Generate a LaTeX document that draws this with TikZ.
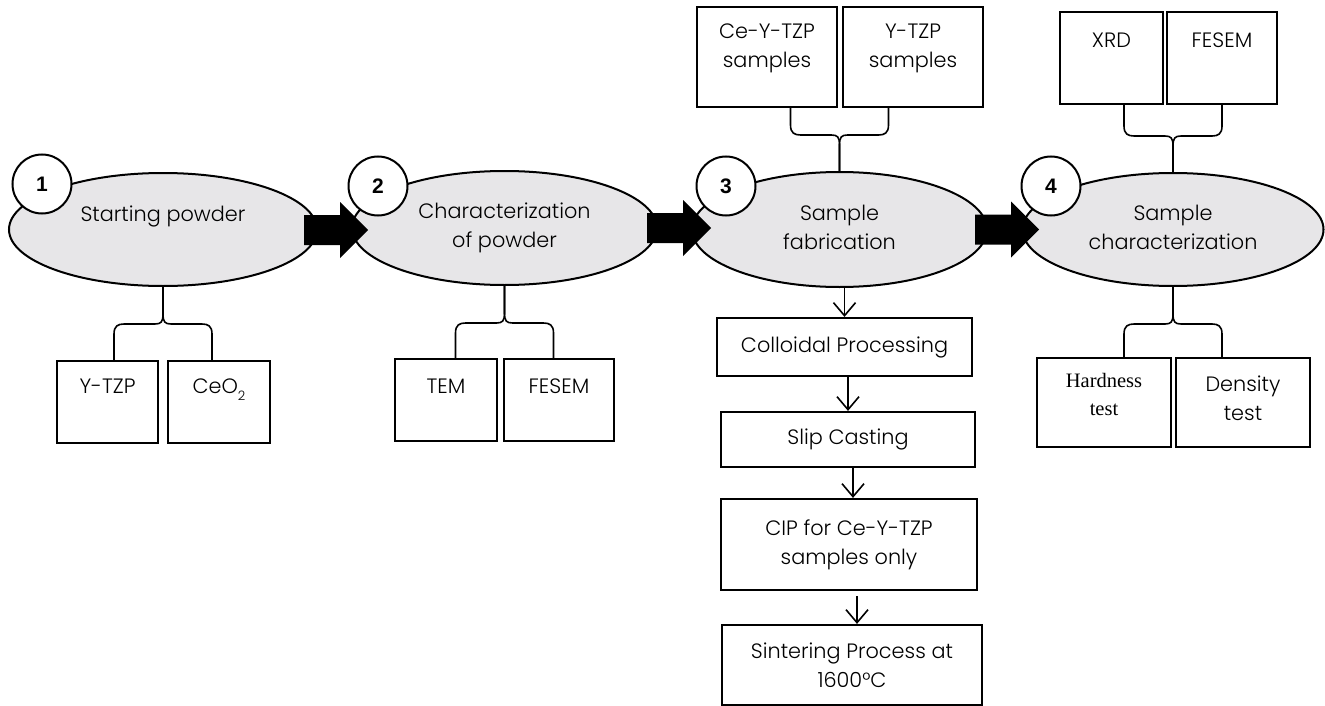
\documentclass[tikz,border=0pt]{standalone}
\usepackage{fontspec}
\setmainfont{Poppins}[UprightFont=* Light]
\newfontfamily\numfont{Liberation Sans}
\newfontfamily\serifface{Liberation Serif}
\usetikzlibrary{shapes.geometric,arrows.meta,calc}

\definecolor{stagefill}{RGB}{231,230,232}

% subscript set in the text font
\newcommand\lowtwo{\raisebox{-0.3em}{\fontsize{13}{13}\selectfont 2}}

% brace hanging below a stage, forking to two boxes
\newcommand\forkdown[3]{%
  \coordinate (fl) at ($(#1.south)+(-49,0)$);
  \coordinate (fr) at ($(#1.south)+(49,0)$);
  \draw[fork] (#1.south) -- ++(0,27) .. controls +(0,8) and +(6,0) .. ++(-8,10)
    -- ++(-31,0) .. controls +(-6,0) and +(0,-8) .. ++(-10,10) -- (fl |- #2.north);
  \draw[fork] (#1.south) -- ++(0,27) .. controls +(0,8) and +(-6,0) .. ++(8,10)
    -- ++(31,0) .. controls +(6,0) and +(0,-8) .. ++(10,10) -- (fr |- #3.north);
}
% brace rising above a stage, forking to two boxes
\newcommand\forkup[3]{%
  \coordinate (fl) at ($(#1.north)+(-49,0)$);
  \coordinate (fr) at ($(#1.north)+(49,0)$);
  \draw[fork] (#1.north) -- ++(0,-26) .. controls +(0,-8) and +(6,0) .. ++(-8,-10)
    -- ++(-31,0) .. controls +(-6,0) and +(0,8) .. ++(-10,-10) -- (fl |- #2.south);
  \draw[fork] (#1.north) -- ++(0,-26) .. controls +(0,-8) and +(-6,0) .. ++(8,-10)
    -- ++(31,0) .. controls +(6,0) and +(0,8) .. ++(10,-10) -- (fr |- #3.south);
}
% thick black block arrow starting at a point
\newcommand\blockarrow[1]{%
  \fill[black] #1 ++(0,-15) -- ++(36,0) -- ++(0,-13) -- ++(28,28)
    -- ++(-28,28) -- ++(0,-13) -- ++(-36,0) -- cycle;
}

\begin{document}
\begin{tikzpicture}[x=1pt,y=-1pt,
  stage/.style={ellipse, draw, line width=2pt, fill=stagefill, inner sep=0pt},
  num/.style={circle, draw, line width=2pt, fill=white, minimum size=59pt, inner sep=0pt,
    font=\numfont\bfseries\fontsize{21}{24}\selectfont},
  item/.style={draw, line width=2.2pt, inner sep=0pt},
  txt/.style={font=\fontsize{20.8}{29}\selectfont, align=center, inner sep=0pt},
  seriftxt/.style={font=\serifface\fontsize{20.5}{28}\selectfont, align=center, inner sep=0pt},
  fork/.style={line width=1.6pt},
  flow/.style={line width=1.6pt, -{Straight Barb[length=13pt,width=22pt,line width=1.6pt]}},
]
\fill[white] (0,0) rectangle (1325,706);
\path[use as bounding box] (0,0) rectangle (1325,706);

% the four stages
\node[stage, minimum width=308pt, minimum height=113pt] (e1) at (163,229.5) {};
\node[stage, minimum width=305pt, minimum height=114pt] (e2) at (504.5,228) {};
\node[stage, minimum width=295pt, minimum height=115pt] (e3) at (839.5,229.5) {};
\node[stage, minimum width=301pt, minimum height=113pt] (e4) at (1173,229.5) {};

% stage names (base = last line)
\node[txt, anchor=base] (l1) at ($(e1.center)+(0,-8)$) {Starting powder};
\node[txt, anchor=base] (l2) at ($(e2.center)+(0,19)$) {Characterization\\of powder};
\node[txt, anchor=base] (l3) at ($(e3.center)+(0,20)$) {Sample\\fabrication};
\node[txt, anchor=base] (l4) at ($(e4.center)+(0,20)$) {Sample\\characterization};

% block arrows between stages
\blockarrow{($(e1.east)+(-14,0.5)$)}
\blockarrow{($(e2.east)+(-11,0)$)}
\blockarrow{($(e3.east)+(-13,0)$)}

% step numbers
\node[num] (n1) at (42,184) {1};
\node[num] (n2) at (378,186) {2};
\node[num] (n3) at (726,186) {3};
\node[num] (n4) at (1051,186) {4};

% inputs above stages 3 and 4
\node[item, minimum width=140pt, minimum height=100pt] (t3a) at (767,57) {};
\node[item, minimum width=140pt, minimum height=100pt] (t3b) at (913,57) {};
\node[item, minimum width=103pt, minimum height=92pt] (t4a) at (1111.5,58) {};
\node[item, minimum width=110pt, minimum height=92pt] (t4b) at (1222,58) {};
\node[txt, anchor=base] at ($(t3a.north)+(0,62)$) {Ce-Y-TZP\\samples};
\node[txt, anchor=base] at ($(t3b.north)+(0,62)$) {Y-TZP\\samples};
\node[txt, anchor=base] at ($(t4a.north)+(0,37)$) {XRD};
\node[txt, anchor=base] at ($(t4b.north)+(0,37)$) {FESEM};

% outputs below stages 1, 2 and 4
\node[item, minimum width=101pt, minimum height=82pt] (b1a) at (107.5,402) {};
\node[item, minimum width=102pt, minimum height=82pt] (b1b) at (219,402) {};
\node[item, minimum width=102pt, minimum height=82pt] (b2a) at (446,400) {};
\node[item, minimum width=110pt, minimum height=82pt] (b2b) at (559,400) {};
\node[item, minimum width=134pt, minimum height=89pt] (b4a) at (1104,402.5) {};
\node[item, minimum width=134pt, minimum height=89pt] (b4b) at (1243,402.5) {};
\node[txt, anchor=base] at ($(b1a.north)+(0,34)$) {Y-TZP};
\node[txt, anchor=base] at ($(b1b.north)+(0,34)$) {CeO\lowtwo};
\node[txt, anchor=base] at ($(b2a.north)+(0,36)$) {TEM};
\node[txt, anchor=base] at ($(b2b.north)+(0,36)$) {FESEM};
\node[seriftxt, anchor=base] at ($(b4a.north)+(0,59)$) {Hardness\\test};
\node[txt, anchor=base] at ($(b4b.north)+(0,64)$) {Density\\test};

% fabrication route below stage 3
\node[item, txt, minimum width=255pt, minimum height=58pt] (f1) at (844.5,347) {Colloidal Processing};
\node[item, txt, minimum width=254pt, minimum height=55pt] (f2) at (848,439.5) {Slip Casting};
\node[item, txt, minimum width=256pt, minimum height=91pt] (f3) at (849,544.5) {CIP for Ce-Y-TZP\\samples only};
\node[item, txt, minimum width=260pt, minimum height=80pt] (f4) at (852,665) {Sintering Process at\\1600°C};

\draw[flow] (e3.south -| f1.north) -- (f1.north);
\draw[flow] (f1.south -| f2.north) -- (f2.north);
\draw[flow] ($(f2.south -| f3.north)+(4,0)$) -- ($(f3.north)+(4,0)$);
\draw[flow] ($(f3.south -| f4.north)+(5,5)$) -- ($(f4.north)+(5,0)$);

% forks joining stages to their boxes
\forkdown{e1}{b1a}{b1b}
\forkdown{e2}{b2a}{b2b}
\forkdown{e4}{b4a}{b4b}
\forkup{e3}{t3a}{t3b}
\forkup{e4}{t4a}{t4b}
\end{tikzpicture}
\end{document}
